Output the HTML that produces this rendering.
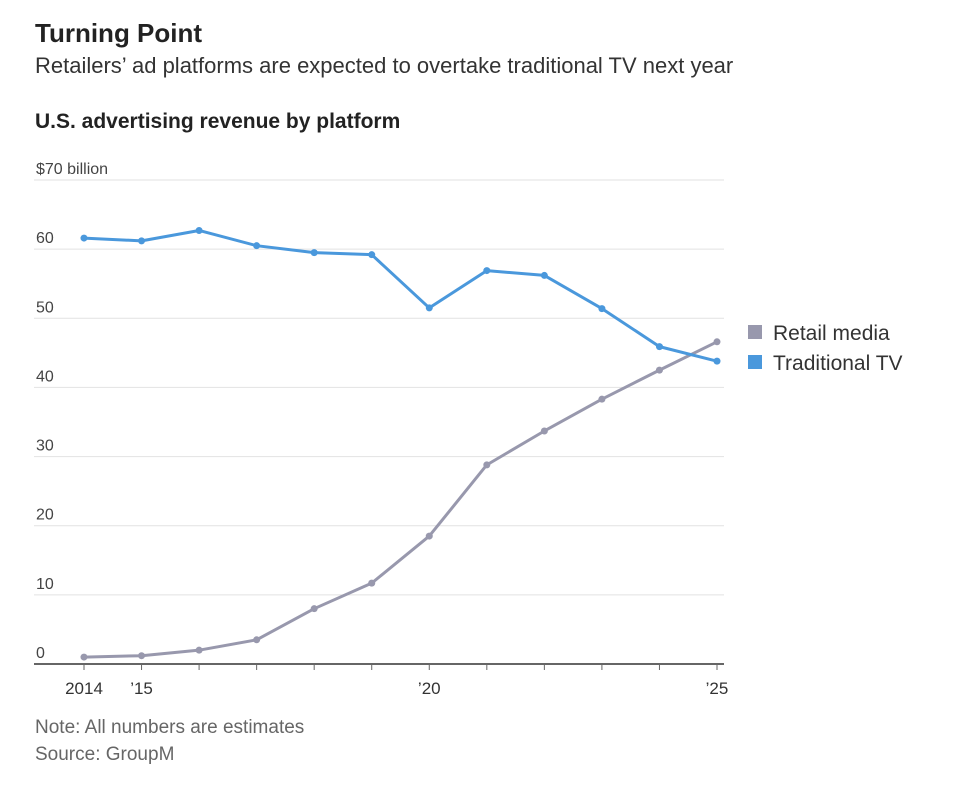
<!DOCTYPE html>
<html><head><meta charset="utf-8"><style>
body{margin:0;width:955px;height:790px;background:#fff;font-family:"Liberation Sans",sans-serif;overflow:hidden;position:relative}
.t{position:absolute;white-space:nowrap}
</style></head><body>
<div class="t" style="left:35px;top:18px;font-size:26px;font-weight:bold;color:#222">Turning Point</div>
<div class="t" style="left:35px;top:53px;font-size:22px;color:#333">Retailers’ ad platforms are expected to overtake traditional TV next year</div>
<div class="t" style="left:35px;top:110px;font-size:21px;font-weight:bold;color:#222">U.S. advertising revenue by platform</div>
<div class="t" style="left:35px;top:717px;font-size:19px;color:#666">Note: All numbers are estimates</div>
<div class="t" style="left:35px;top:744px;font-size:19px;color:#666">Source: GroupM</div>
<svg id="c" width="955" height="790" style="position:absolute;left:0;top:0"></svg>
<script>
const years=[2014,2015,2016,2017,2018,2019,2020,2021,2022,2023,2024,2025];
const tvValues=[61.6,61.2,62.7,60.5,59.5,59.2,51.5,56.9,56.2,51.4,45.9,43.8];
const retailValues=[1.0,1.2,2.0,3.5,8.0,11.7,18.5,28.8,33.7,38.3,42.5,46.6];
const yTicks=[0,10,20,30,40,50,60,70];
const yTickLabels=["0","10","20","30","40","50","60","$70 billion"];
const xLabelYears=[2014,2015,2020,2025];
const xLabels=["2014","’15","’20","’25"];
const NS="http://www.w3.org/2000/svg",svg=document.getElementById('c');
const x=v=>84+(v-2014)*(717-84)/11, y=v=>664-v*(664-180)/70;
function mk(t,a){const e=document.createElementNS(NS,t);for(const k in a)e.setAttribute(k,a[k]);svg.appendChild(e);return e;}
yTicks.forEach((t,i)=>{
 if(t>0){const g=mk('line',{x1:34,x2:724,y1:y(t),y2:y(t),stroke:'#e2e2e2','stroke-width':1});
 
 }
 const l=mk('text',{x:36,y:y(t)-6,'font-size':16,fill:'#444','font-family':'Liberation Sans, sans-serif'});
 l.textContent=yTickLabels[i];
 
 
});
const ax=mk('line',{x1:34,x2:724,y1:664,y2:664,stroke:'#666','stroke-width':2});


years.forEach(yr=>{const t=mk('line',{x1:x(yr),x2:x(yr),y1:664,y2:670,stroke:'#666','stroke-width':1});
 
 });
xLabelYears.forEach((yr,i)=>{const t=mk('text',{x:x(yr),y:694,'font-size':17,fill:'#333','text-anchor':'middle','font-family':'Liberation Sans, sans-serif'});
 t.textContent=xLabels[i];
 
 });
function series(vals,col,name){
 const p=mk('polyline',{points:vals.map((v,i)=>x(years[i])+','+y(v)).join(' '),fill:'none',stroke:col,'stroke-width':3,'stroke-linejoin':'round'});
 
 
 vals.forEach((v,i)=>{const c=mk('circle',{cx:x(years[i]),cy:y(v),r:3.5,fill:col});
 
 });
}
series(retailValues,'#9898ad','retail-media');
series(tvValues,'#4a98dc','traditional-tv');
[['Retail media','#9898ad',332],['Traditional TV','#4a98dc',362]].forEach(([n,c,yy])=>{
 const r=mk('rect',{x:748,y:yy-7,width:14,height:14,fill:c});
 
 
 const t=mk('text',{x:773,y:yy+8,'font-size':21,fill:'#333','font-family':'Liberation Sans, sans-serif'});
 t.textContent=n;
 
 
});
</script>
</body></html>
